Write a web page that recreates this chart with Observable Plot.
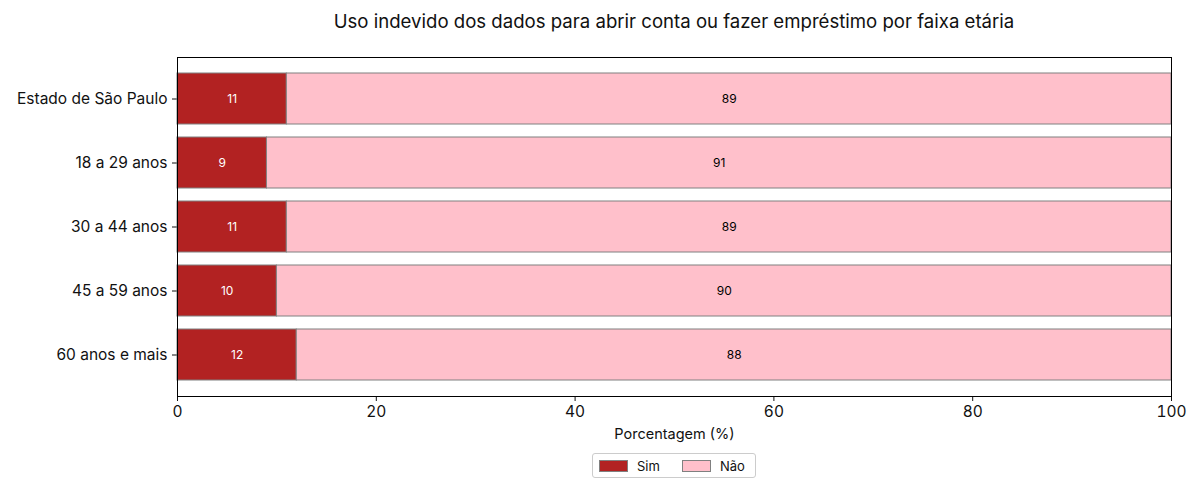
<!DOCTYPE html>
<html><head><meta charset="utf-8">
<script src="https://cdn.jsdelivr.net/npm/d3@7"></script>
<script src="https://cdn.jsdelivr.net/npm/@observablehq/plot@0.6"></script>
<style>
body{margin:0;background:#fff;font-family:Inter,Roboto,sans-serif;width:1200px;}
#title{position:absolute;left:177px;width:994px;top:10px;text-align:center;font-size:18.6px;color:#111;}
#chart{position:absolute;left:0;top:45px;}
#legend{position:absolute;left:592px;top:453px;width:164px;height:25px;border:1px solid #ccc;border-radius:3px;box-sizing:border-box;display:flex;align-items:center;font-size:13px;color:#111;}
.sw{display:inline-block;width:27px;height:10px;border:1px solid #808080;margin:0 9px 0 6px;}
</style></head><body>
<div id="title">Uso indevido dos dados para abrir conta ou fazer empréstimo por faixa etária</div>
<div id="chart"></div>
<div id="legend"><span class="sw" style="background:#b22222"></span>Sim<span class="sw" style="background:#ffc0cb;margin-left:22px"></span>Não</div>
<script>
const categories = ["Estado de São Paulo","18 a 29 anos","30 a 44 anos","45 a 59 anos","60 anos e mais"];
const simValues = [11,9,11,10,12];
const naoValues = [89,91,89,90,88];
const xTicks = [0,20,40,60,80,100];

const rows = [];
categories.forEach((c,i)=>{
  rows.push({cat:c, resp:"Sim", x1:0, x2:simValues[i], v:simValues[i]});
  rows.push({cat:c, resp:"Não", x1:simValues[i], x2:simValues[i]+naoValues[i], v:naoValues[i]});
});

const plot = Plot.plot({
  width:1200, height:401,
  marginLeft:177, marginRight:29, marginTop:12, marginBottom:50,
  style:{fontFamily:"Inter,Roboto,sans-serif", fontSize:"15.5px", color:"#111"},
  x:{domain:[0,100], ticks:xTicks, tickSize:5, tickPadding:4, label:"Porcentagem (%)", labelAnchor:"center", labelArrow:"none", labelOffset:42},
  y:{domain:categories, paddingInner:0.2, paddingOuter:0.24, tickSize:5, tickPadding:5, label:null},
  color:{domain:["Sim","Não"], range:["#b22222","#ffc0cb"]},
  marks:[
    Plot.barX(rows,{y:"cat", x1:"x1", x2:"x2", fill:"resp", stroke:"#808080", strokeWidth:1}),
    Plot.text(rows,{y:"cat", x:d=>(d.x1+d.x2)/2, text:d=>String(d.v), fill:d=>d.resp==="Sim"?"white":"black", fontSize:12}),
    Plot.frame({stroke:"black"})
  ]
});
plot.querySelectorAll('[aria-label="x-axis label"] text').forEach(t=>t.style.fontSize="14.5px");
document.getElementById("chart").appendChild(plot);
</script>
</body></html>
